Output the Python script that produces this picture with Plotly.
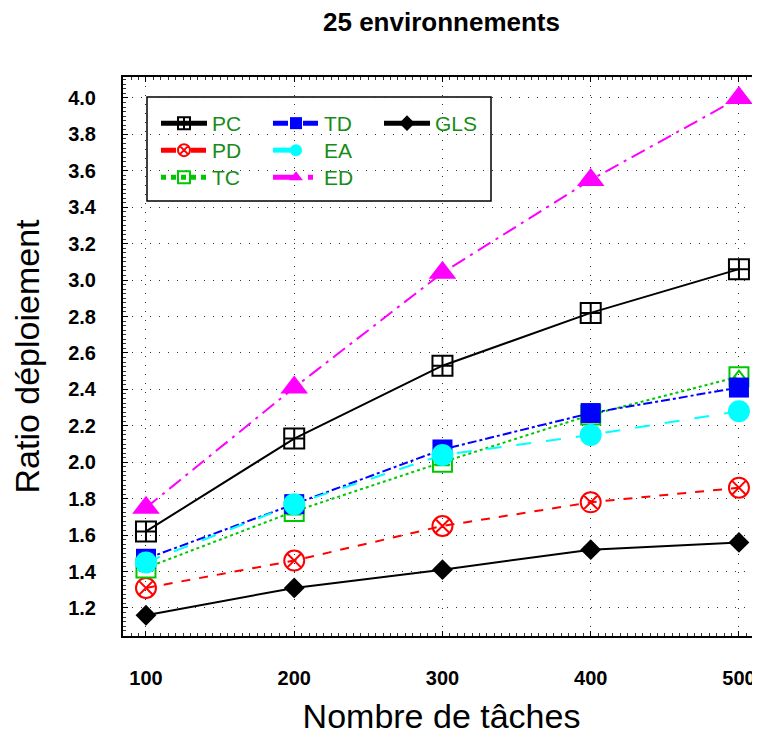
import plotly.graph_objects as go

tasks = [100, 200, 300, 400, 500]
pc = [1.62, 2.13, 2.53, 2.82, 3.06]
pd_ = [1.31, 1.46, 1.65, 1.78, 1.86]
tc = [1.42, 1.73, 2.00, 2.26, 2.47]
td = [1.47, 1.77, 2.07, 2.27, 2.41]
ea = [1.45, 1.77, 2.04, 2.15, 2.28]
ed = [1.75, 2.41, 3.04, 3.55, 4.00]
gls = [1.16, 1.31, 1.41, 1.52, 1.56]

y_ticks = [1.2, 1.4, 1.6, 1.8, 2.0, 2.2, 2.4, 2.6, 2.8, 3.0, 3.2, 3.4, 3.6, 3.8, 4.0]
x_ticks = [100, 200, 300, 400, 500]

FONT = "Liberation Sans, Arial, sans-serif"
GREEN_TXT = "#178c17"

fig = go.Figure()

def add(name, y, color, dash, symbol, size, legend, lw=2, mlw=2):
    fig.add_trace(go.Scatter(
        x=tasks, y=y, name=name, mode="lines+markers",
        line=dict(color=color, width=lw, dash=dash),
        marker=dict(symbol=symbol, size=size, color=color,
                    line=dict(color=color, width=mlw)),
        legend=legend, legendgroup=name,
    ))

add("GLS", gls, "black", "solid", "diamond", 16, "legend7", mlw=0)
add("PD", pd_, "#ff0000", "dash", "circle-x-open", 20, "legend2")
add("PC", pc, "black", "solid", "square-cross-open", 20, "legend")
add("TC", tc, "#00c800", "dot", "square-open", 19, "legend3")
fig.add_trace(go.Scatter(
    x=tasks, y=tc, mode="markers", showlegend=False, legendgroup="TC",
    marker=dict(symbol="triangle-up-open", size=12, color="#00c800",
                line=dict(color="#00c800", width=2)),
    hoverinfo="skip",
))
add("TD", td, "#0000ff", "dashdot", "square", 20, "legend4", mlw=0)
add("EA", ea, "#00ffff", "longdash", "circle", 22, "legend5", mlw=0)
add("ED", ed, "#ff00ff", "longdashdot", "triangle-up", 24, "legend6", mlw=0)

# page body has an 8px margin: figure drawn 8px right/down
OFF = 8
W, H = 760 - OFF, 743 - 2 * OFF
PX0, PW, PY0, PH = 123, 637, 77, 559   # plot area in screen pixels

def px(x):
    return (x - PX0) / PW

def py(y):
    return (PY0 + PH - y) / PH

leg_common = dict(
    bgcolor="rgba(0,0,0,0)", borderwidth=0, orientation="v",
    xanchor="left", yanchor="top", itemsizing="constant",
    font=dict(family=FONT, size=21, color=GREEN_TXT),
    tracegroupgap=0, traceorder="normal", itemwidth=46,
)

col_x = [156, 268, 379]
row_y = [103, 130, 157]

fig.update_layout(
    width=W, height=H,
    margin=dict(l=PX0 - OFF, r=0, t=PY0 - OFF, b=H - (PY0 - OFF) - PH, autoexpand=False),
    paper_bgcolor="white", plot_bgcolor="white",
    font=dict(family=FONT, color="black"),
    title=dict(text="25 environnements", x=0.5, xref="paper", xanchor="center",
               y=1 - (22 - OFF) / H, yref="container", yanchor="middle", automargin=False,
               font=dict(family=FONT, size=26, weight="bold", color="black")),
    legend=dict(x=px(col_x[0]), y=py(row_y[0]), **leg_common),
    legend2=dict(x=px(col_x[0]), y=py(row_y[1]), **leg_common),
    legend3=dict(x=px(col_x[0]), y=py(row_y[2]), **leg_common),
    legend4=dict(x=px(col_x[1]), y=py(row_y[0]), **leg_common),
    legend5=dict(x=px(col_x[1]), y=py(row_y[1]), **leg_common),
    legend6=dict(x=px(col_x[1]), y=py(row_y[2]), **leg_common),
    legend7=dict(x=px(col_x[2]), y=py(row_y[0]), **leg_common),
    showlegend=True,
)

fig.add_shape(type="rect", xref="paper", yref="paper",
              x0=px(147), x1=px(491), y0=py(201), y1=py(97),
              line=dict(color="black", width=1.5), fillcolor="white", layer="below")

fig.update_xaxes(
    range=[84.5, 514.2], tickvals=x_ticks, ticktext=[str(v) for v in x_ticks],
    tickfont=dict(family=FONT, size=20, weight="bold", color="black"),
    ticks="inside", ticklen=5, tickcolor="black", ticklabelstandoff=23,
    showline=True, linecolor="black", linewidth=2, mirror="allticks",
    showgrid=True, gridcolor="#333", griddash="1px,8px", gridwidth=1,
    zeroline=False, automargin=False,
    minor=dict(dtick=5, ticks="inside", ticklen=3, tickcolor="#333", showgrid=False, tick0=0),
    title=dict(text="Nombre de tâches", standoff=21,
               font=dict(family=FONT, size=34, color="black")),
)
fig.update_yaxes(
    range=[1.046, 4.115], tickvals=y_ticks, ticktext=[f"{v:.1f}" for v in y_ticks],
    tickfont=dict(family=FONT, size=20, weight="bold", color="black"),
    ticks="inside", ticklen=5, tickcolor="black", ticklabelstandoff=21,
    showline=True, linecolor="black", linewidth=2, mirror="allticks",
    showgrid=True, gridcolor="#333", griddash="1px,8px", gridwidth=1,
    zeroline=False, automargin=False,
    minor=dict(dtick=0.025, ticks="inside", ticklen=3, tickcolor="#333", showgrid=False, tick0=0),
    title=dict(text="Ratio déploiement", standoff=20,
               font=dict(family=FONT, size=34, color="black")),
)

fig.write_html("out.html")
